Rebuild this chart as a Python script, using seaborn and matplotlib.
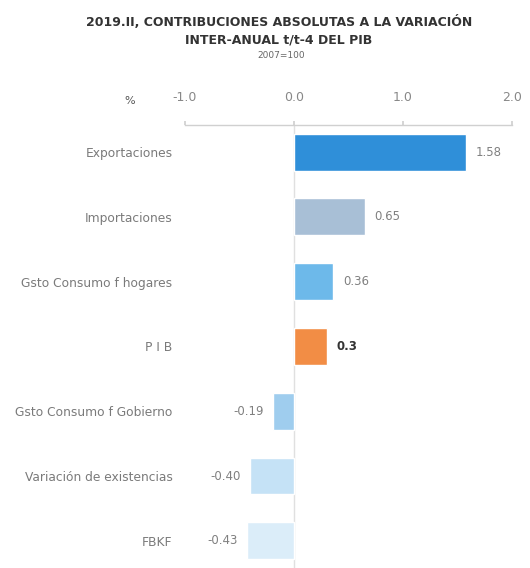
import numpy as np
import pandas as pd
import matplotlib
matplotlib.use('Agg')
import matplotlib.pyplot as plt
import seaborn as sns

#: data
categorias = ['Exportaciones', 'Importaciones', 'Gsto Consumo f hogares', 'P I B',
              'Gsto Consumo f Gobierno', 'Variación de existencias', 'FBKF']
valores = [1.58, 0.65, 0.36, 0.30, -0.19, -0.40, -0.43]
etiquetas = ['1.58', '0.65', '0.36', '0.3', '-0.19', '-0.40', '-0.43']
colores = ['#2f8fd9', '#a8bfd6', '#6db9ea', '#f28d45', '#9fcdee', '#c5e2f6', '#dbedf9']
ticks_x = [-1.0, 0.0, 1.0, 2.0]

df = pd.DataFrame({'cat': categorias, 'val': valores})

sns.set_theme(style='white')
plt.rcParams['font.family'] = ['DejaVu Sans']

fig = plt.figure(figsize=(5.3, 5.68), dpi=100)
ax = fig.add_axes([0.349, 0.0, 0.617, 0.78])

sns.barplot(data=df, x='val', y='cat', hue='cat', palette=colores, orient='h',
            width=0.57, legend=False, ax=ax, saturation=1)

for cont, lab in zip(ax.containers, etiquetas):
    bold = lab == '0.3'
    ax.bar_label(cont, labels=[lab], padding=7, fontsize=8.5,
                 color='#333333' if bold else '#808080',
                 fontweight='bold' if bold else 'normal')

ax.axvline(0, color='#e0e0e0', lw=1, zorder=0)
ax.set_xlim(-1.0, 2.0)
ax.set_ylim(6.42, -0.42)
ax.set_xticks(ticks_x)
ax.set_xticklabels([f'{t:.1f}' for t in ticks_x])
ax.xaxis.tick_top()
ax.tick_params(axis='x', top=True, length=3, color='#d0d0d0', pad=12,
               labelsize=9, labelcolor='#888888')
ax.tick_params(axis='y', left=False, length=0, pad=9, labelsize=8.8, labelcolor='#7a7a7a')
for s in ['right', 'bottom', 'left']:
    ax.spines[s].set_visible(False)
ax.spines['top'].set_color('#d0d0d0')
ax.spines['top'].set_linewidth(1)
ax.set_xlabel('')
ax.set_ylabel('')

fig.text(130 / 530, 1 - 101 / 568, '%', fontsize=8, color='#555555', ha='center', va='center')
fig.text(279 / 530, 1 - 22 / 568, '2019.II, CONTRIBUCIONES ABSOLUTAS A LA VARIACIÓN',
         fontsize=9, fontweight='bold', color='#333333', ha='center', va='center')
fig.text(279 / 530, 1 - 40 / 568, 'INTER-ANUAL t/t-4 DEL PIB',
         fontsize=9, fontweight='bold', color='#333333', ha='center', va='center')
fig.text(281 / 530, 1 - 55 / 568, '2007=100',
         fontsize=6.5, color='#666666', ha='center', va='center')

fig.savefig('out.png', dpi=100)
